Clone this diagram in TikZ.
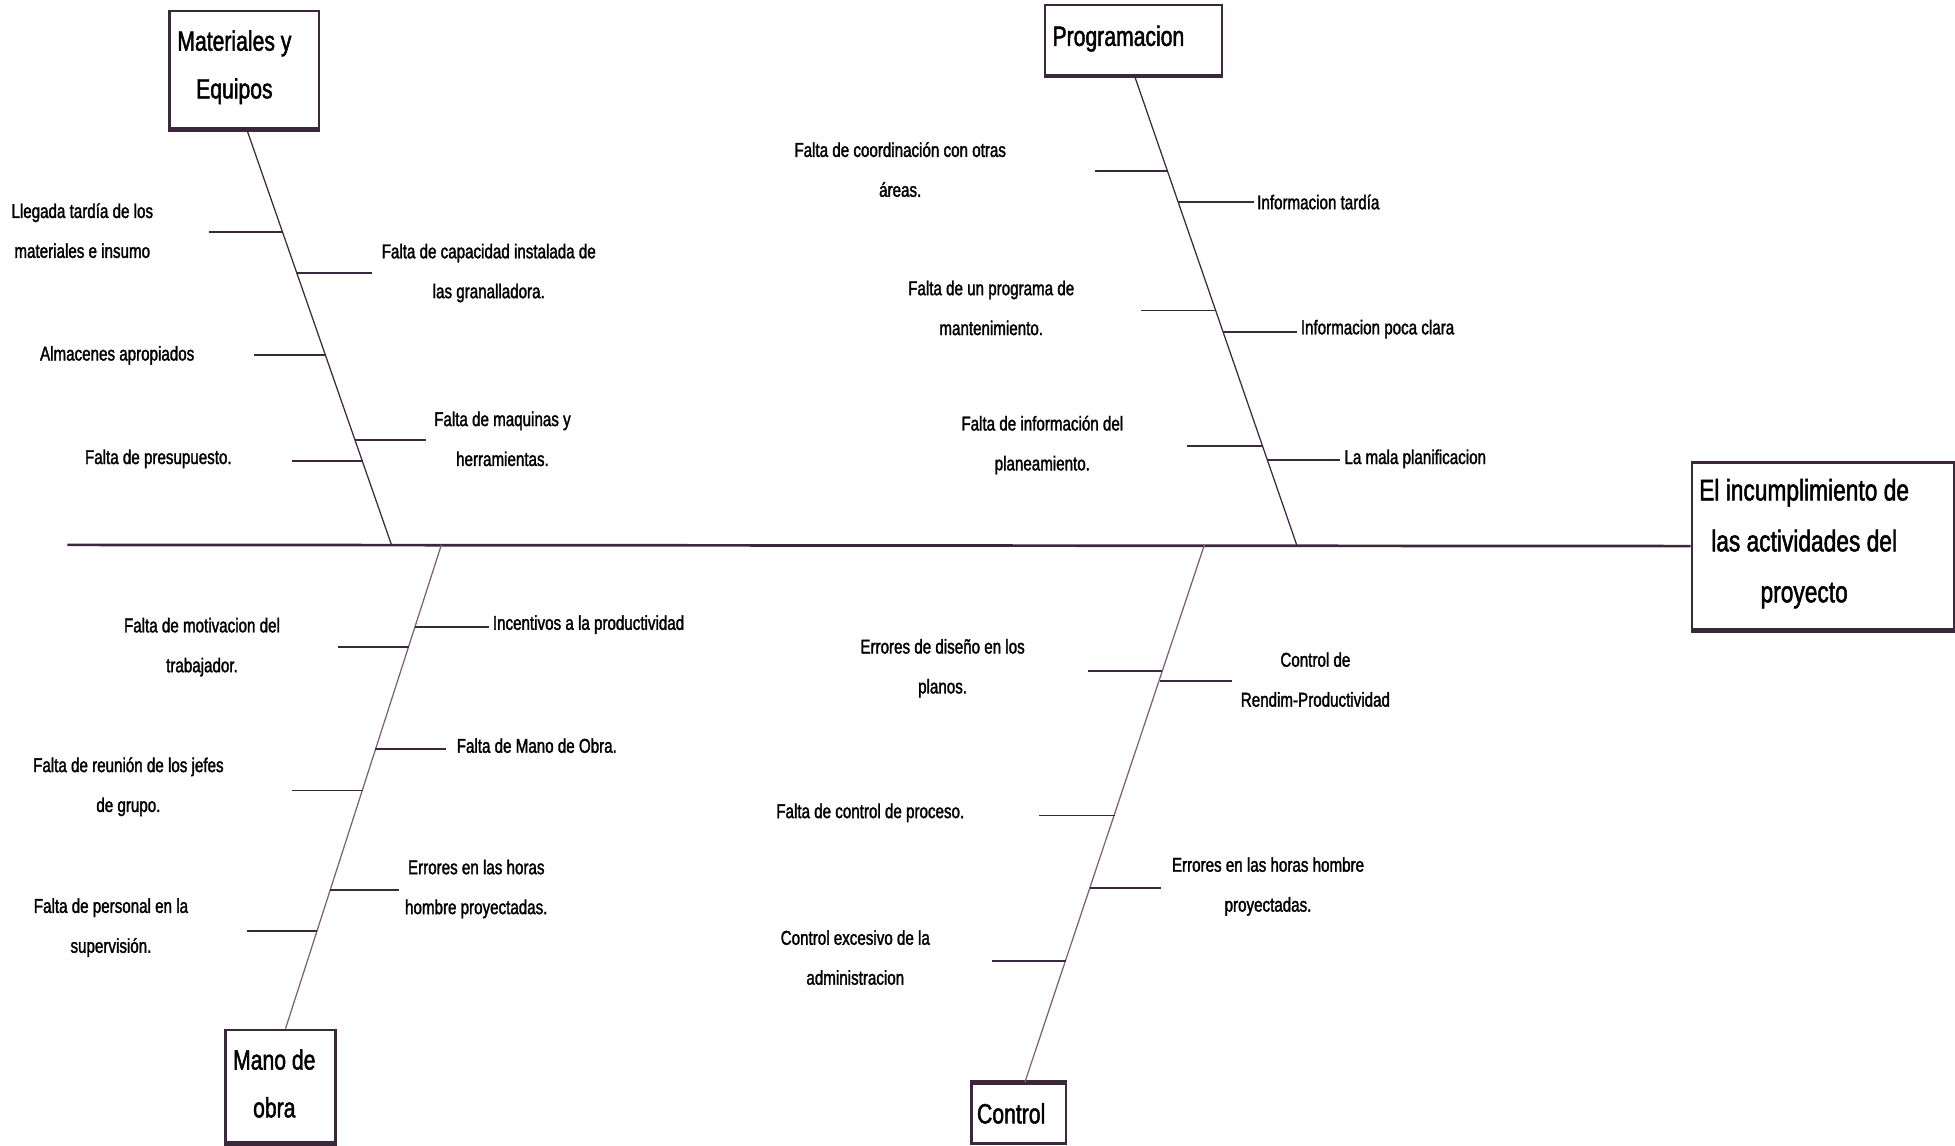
\documentclass[tikz,border=0pt]{standalone}
\usepackage{fontspec}
\setmainfont{Liberation Sans}
\newfontfamily\narrowfont[FakeStretch=0.76,FakeBold=1.6]{Liberation Sans}
\definecolor{ln}{RGB}{60,40,60}
\definecolor{bonelow}{RGB}{125,95,120}
\begin{document}
\begin{tikzpicture}[x=0.6pt,y=-0.6pt,
  lab/.style={font=\narrowfont\fontsize{9.6}{19.2}\selectfont, align=center, inner sep=0pt, text=black},
  labw/.style={lab, anchor=west},
  box/.style={draw=ln, line width=1.2pt, fill=white, inner sep=0pt},
  title/.style={align=center, inner sep=0pt, font=\narrowfont\fontsize{13.4}{23}\selectfont},
  bone/.style={draw=ln, line width=0.6pt},
  bonel/.style={draw=bonelow, line width=0.6pt},
  twig/.style={draw=ln, line width=0.9pt},
  spine/.style={draw=ln, line width=1.3pt},
  shadow/.style={draw=ln, line width=2.2pt}]
\useasboundingbox (0,0) rectangle (1568,919);

% boxes
\node[box, minimum width=72pt, minimum height=56.4pt] (mat) at (196,56) {};
\node[box, minimum width=85.2pt, minimum height=33.6pt] (prog) at (909,32) {};
\node[box, minimum width=126pt, minimum height=80.4pt] (head) at (1462,438) {};
\node[box, minimum width=52.8pt, minimum height=54pt] (mano) at (225,871) {};
\node[box, minimum width=45.6pt, minimum height=28.8pt] (ctrl) at (817,893) {};
\draw[shadow] (mat.south west) -- (mat.south east);
\draw[shadow] (prog.south west) -- (prog.south east);
\draw[shadow] (head.south west) -- (head.south east);
\draw[shadow] (mano.south west) -- (mano.south east);
\draw[shadow] (ctrl.north west) -- (ctrl.north east);
\node[title] (matT) at (188,54) {Materiales y\\Equipos};
\node[title] (progT) at (897,31) {Programacion};
\node[title, font=\narrowfont\fontsize{14.4}{24.5}\selectfont] (headT) at (1447,436) {El incumplimiento de\\las actividades del\\proyecto};
\node[title] (manoT) at (220,869) {Mano de\\obra};
\node[title] (ctrlT) at (811,893) {Control};

% spine
\coordinate (sp0) at (54,437);
\draw[spine] (sp0) -- (head.west);

% bone ends on spine
\coordinate (b1) at (314,437);
\coordinate (b2) at (1040,437);
\coordinate (b3) at (354,437);
\coordinate (b4) at (966,437);
\draw[bone] ([xshift=1.2pt]mat.south) -- (b1);
\draw[bone] ([xshift=0.6pt]prog.south) -- (b2);
\draw[bonel] ([xshift=2.4pt]mano.north) -- (b3);
\draw[bonel] ([xshift=3pt]ctrl.north) -- (b4);

% ---- Materiales y Equipos branches
\coordinate (m1a) at (227,186); \coordinate (m1b) at (168,186);
\coordinate (m2a) at (238,219); \coordinate (m2b) at (298,219);
\coordinate (m3a) at (261,285); \coordinate (m3b) at (204,285);
\coordinate (m4a) at (285,353); \coordinate (m4b) at (342,353);
\coordinate (m5a) at (291,370); \coordinate (m5b) at (234,370);
\foreach \i in {1,...,5} {\draw[twig] (m\i a) -- (m\i b);}
\node[lab] (ml1) at (66,185) {Llegada tardía de los\\materiales e insumo};
\node[lab] (mr1) at (392,219) {Falta de capacidad instalada de\\las granalladora.};
\node[lab] (ml2) at (94,285) {Almacenes apropiados};
\node[lab] (mr2) at (403,352) {Falta de maquinas y\\herramientas.};
\node[lab] (ml3) at (127,368) {Falta de presupuesto.};

% ---- Programacion branches
\coordinate (p1a) at (936,137); \coordinate (p1b) at (878,137);
\coordinate (p2a) at (945,162); \coordinate (p2b) at (1006,162);
\coordinate (p3a) at (975,249); \coordinate (p3b) at (915,249);
\coordinate (p4a) at (981,266); \coordinate (p4b) at (1040,266);
\coordinate (p5a) at (1013,358); \coordinate (p5b) at (952,358);
\coordinate (p6a) at (1017,369); \coordinate (p6b) at (1075,369);
\foreach \i in {1,...,6} {\draw[twig] (p\i a) -- (p\i b);}
\node[lab] (pl1) at (722,136) {Falta de coordinación con otras\\áreas.};
\node[labw] (pr1) at (1008,162) {Informacion tardía};
\node[lab] (pl2) at (795,247) {Falta de un programa de\\mantenimiento.};
\node[labw] (pr2) at (1043,264) {Informacion poca clara};
\node[lab] (pl3) at (836,357) {Falta de información del\\planeamiento.};
\node[labw] (pr3) at (1078,368) {La mala planificacion};

% ---- Mano de obra branches
\coordinate (o1a) at (333,503); \coordinate (o1b) at (392,503);
\coordinate (o2a) at (328,519); \coordinate (o2b) at (271,519);
\coordinate (o3a) at (301,601); \coordinate (o3b) at (358,601);
\coordinate (o4a) at (291,634); \coordinate (o4b) at (234,634);
\coordinate (o5a) at (265,714); \coordinate (o5b) at (320,714);
\coordinate (o6a) at (254,747); \coordinate (o6b) at (198,747);
\foreach \i in {1,...,6} {\draw[twig] (o\i a) -- (o\i b);}
\node[labw] (or1) at (395,501) {Incentivos a la productividad};
\node[lab] (ol1) at (162,519) {Falta de motivacion del\\trabajador.};
\node[labw] (or2) at (366,598) {Falta de Mano de Obra.};
\node[lab] (ol2) at (103,631) {Falta de reunión de los jefes\\de grupo.};
\node[lab] (or3) at (382,713) {Errores en las horas\\hombre proyectadas.};
\node[lab] (ol3) at (89,744) {Falta de personal en la\\supervisión.};

% ---- Control branches
\coordinate (c1a) at (932,538); \coordinate (c1b) at (873,538);
\coordinate (c2a) at (930,546); \coordinate (c2b) at (988,546);
\coordinate (c3a) at (894,654); \coordinate (c3b) at (833,654);
\coordinate (c4a) at (874,712); \coordinate (c4b) at (931,712);
\coordinate (c5a) at (855,771); \coordinate (c5b) at (796,771);
\foreach \i in {1,...,5} {\draw[twig] (c\i a) -- (c\i b);}
\node[lab] (cl1) at (756,536) {Errores de diseño en los\\planos.};
\node[lab] (cr1) at (1055,545) {Control de\\Rendim-Productividad};
\node[lab] (cl2) at (698,652) {Falta de control de proceso.};
\node[lab] (cr2) at (1017,711) {Errores en las horas hombre\\proyectadas.};
\node[lab] (cl3) at (686,768) {Control excesivo de la\\administracion};
\end{tikzpicture}
\end{document}
